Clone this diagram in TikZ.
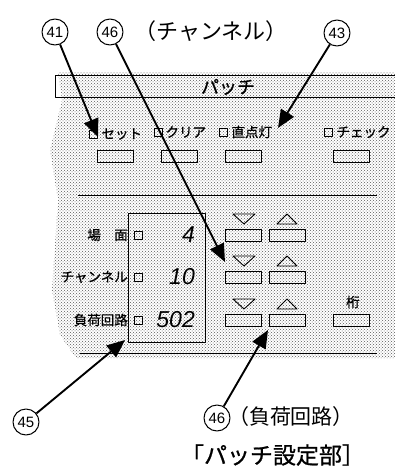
\documentclass[tikz,border=0pt]{standalone}
\usepackage{fontspec}
\newfontfamily\jpfont{Noto Sans CJK JP}
\newfontfamily\jpmed{Noto Sans CJK JP}[FakeBold=0.8]
\newfontfamily\numfont{Liberation Sans}
\usetikzlibrary{positioning,patterns,arrows.meta}

\begin{document}
\begin{tikzpicture}[x=1pt, y=-1pt, line join=round,
	dotbg/.style={pattern=crosshatch dots, pattern color=black!65},
	btn/.style={draw, line width=0.9pt, minimum width=36pt, minimum height=12pt, inner sep=0pt},
	chk/.style={draw, line width=0.7pt, minimum size=8pt, inner sep=0pt},
	lbl/.style={font=\jpmed\fontsize{13.5}{14}\selectfont, inner sep=1pt},
	seg/.style={font=\numfont\itshape\fontsize{23}{23}\selectfont, inner sep=0pt},
	num/.style={draw, circle, line width=1pt, minimum size=26pt, inner sep=0pt, font=\numfont\fontsize{15}{15}\selectfont},
	big/.style={font=\jpfont\fontsize{22}{22}\selectfont},
	callout/.style={line width=1.9pt, -{Triangle[length=18pt,width=15pt]}}]
	\useasboundingbox (0,0) rectangle (395,475);
	\fill[dotbg] (58,72) -- (395,72) -- (395,358) -- (76,358) -- (60,335) -- (52,290) -- (58,200) -- (50,150) -- (62,100) -- cycle;
	\draw[line width=0.9pt] (395,75) -- (55,75) -- (55,97) -- (395,97);
	\node[font=\jpmed\fontsize{18}{18}\selectfont] (bar) at (228,87) {パッチ};
	\draw[line width=0.9pt] (78,195) -- (377,195);
	\draw[line width=0.9pt] (80,353) -- (377,353);
	% upper buttons
	\foreach \x/\n in {115/set,179/clr,243/lamp,351/chk} \node[btn] (b\n) at (\x,156) {};
	\node[chk] (kset) at (93,134) {};
	\node[lbl, right=3pt of kset] (lset) {セット};
	\node[chk] (kclr) at (158,132) {};
	\node[lbl, right=2pt of kclr] (lclr) {クリア};
	\node[chk] (klamp) at (223,132) {};
	\node[lbl, right=3pt of klamp] (llamp) {直点灯};
	\node[chk] (kchk) at (328,132) {};
	\node[lbl, right=3pt of kchk] (lchk) {チェック};
	% display and up/down keys
	\node[draw, line width=0.9pt, minimum width=77pt, minimum height=129pt, inner sep=0pt] (disp) at (166.5,277.5) {};
	\foreach \y/\t/\v [count=\i] in {235/場　面/4, 277/チャンネル/10, 320/負荷回路/502} {
		\node[lbl, anchor=east] (row\i) at (129,\y) {\t};
		\node[chk] (krow\i) at (138,\y) {};
		\node[seg, anchor=east] (val\i) at (195,\y) {\v};
		\node[btn] (dn\i) at (243.5,\y) {};
		\node[btn] (up\i) at (287,\y) {};
		\draw[line width=0.9pt, shift={(244,\y-16)}] (-11,-5) -- (11,-5) -- (0,5) -- cycle;
		\draw[line width=0.9pt, shift={(287,\y-16)}] (-10,5) -- (10,5) -- (0,-5) -- cycle;
	}
	\node[btn] (bdig) at (351,320) {};
	\node[lbl] (ldig) at (353,302) {桁};
	% callouts
	\node[num] (c41) at (55,32) {41};
	\node[num] (c46) at (110,32) {46};
	\node[big] (tch) at (211,31) {（チャンネル）};
	\node[num] (c43) at (337,33) {43};
	\node[num] (c45) at (26,422) {45};
	\node[num] (c46b) at (217,418) {46};
	\node[big, font=\jpfont\fontsize{21}{21}\selectfont] (tload) at (291,417) {（負荷回路）};
	\node[big, font=\jpmed\fontsize{23}{23}\selectfont] (title) at (273,455) {「パッチ設定部］};
	\coordinate (t41) at (98,137);
	\coordinate (t46) at (225,262);
	\coordinate (t43) at (278,128);
	\coordinate (t45) at (125,340);
	\coordinate (t46b) at (268,330);
	\draw[callout] (c41) -- (t41);
	\draw[callout] (c46) -- (t46);
	\draw[callout] (c43) -- (t43);
	\draw[callout] (c45) -- (t45);
	\draw[callout] (c46b) -- (t46b);
\end{tikzpicture}
\end{document}
